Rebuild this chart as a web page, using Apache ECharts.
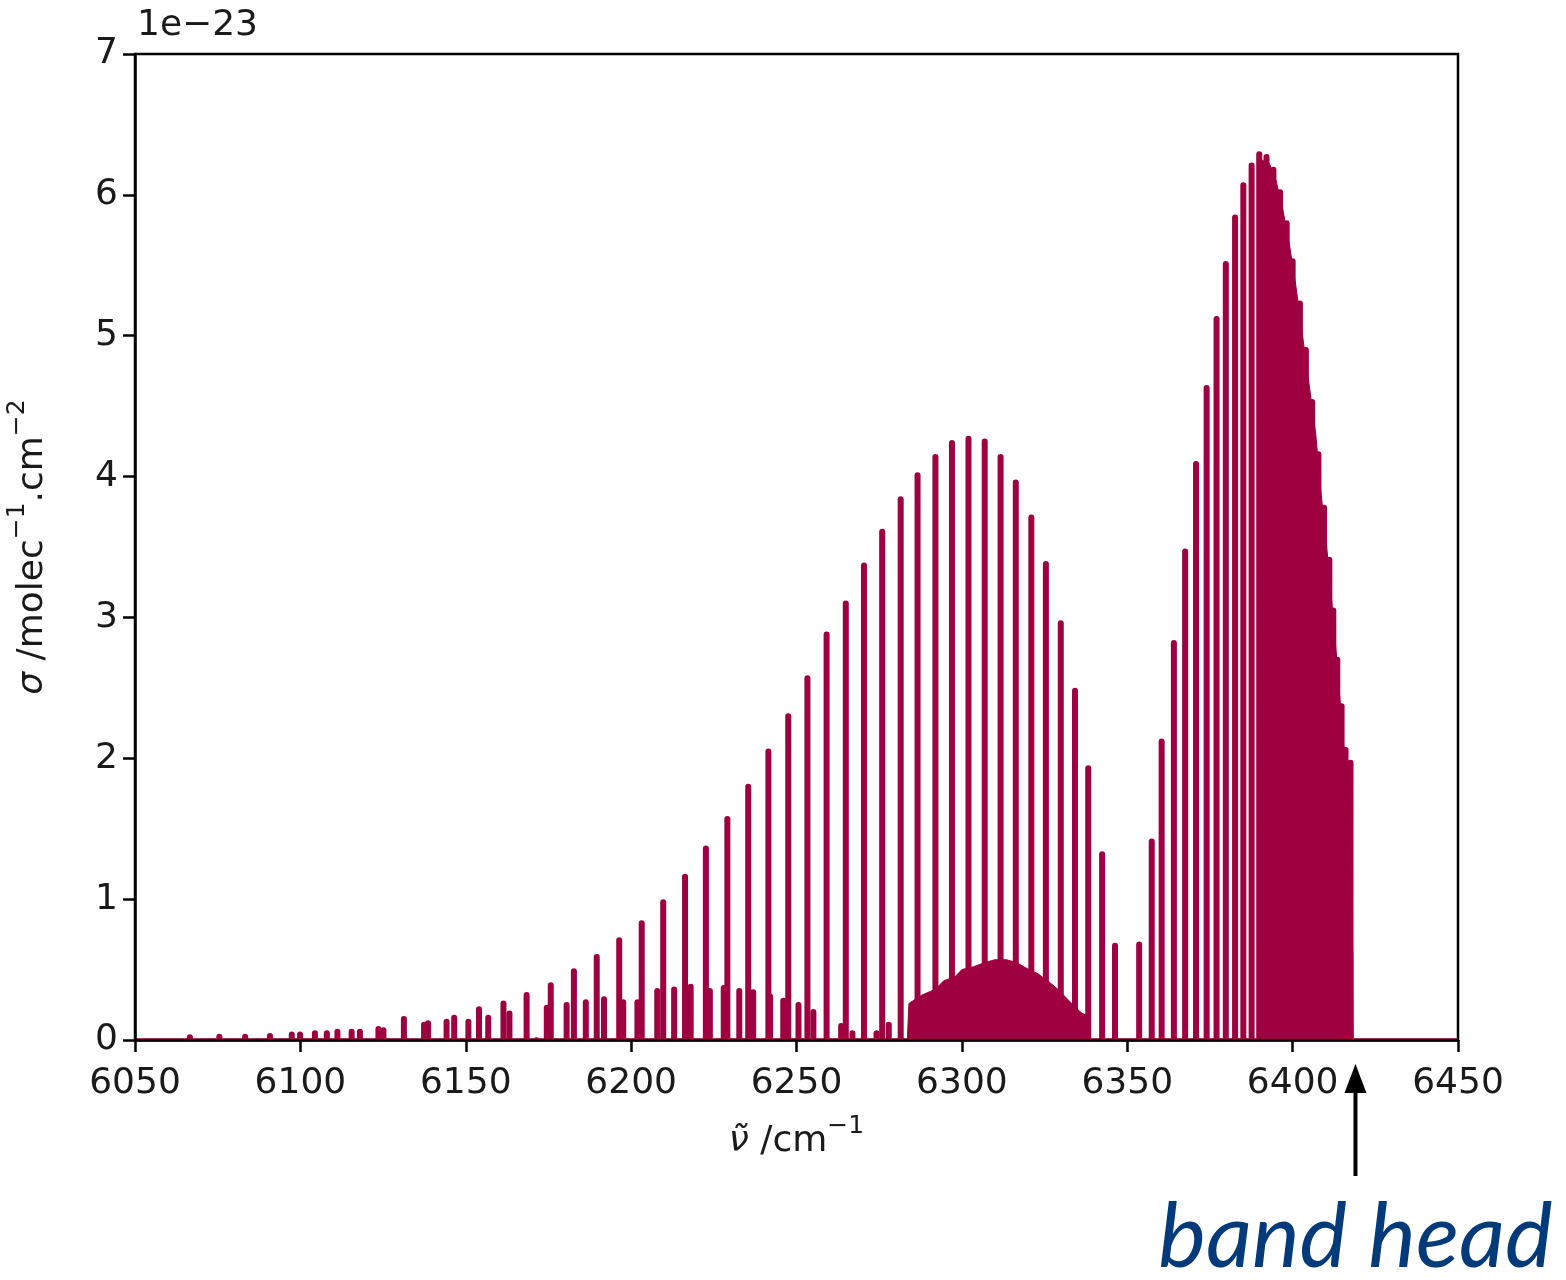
<!DOCTYPE html>
<html>
<head>
<meta charset="utf-8">
<script src="https://cdn.jsdelivr.net/npm/echarts@6/dist/echarts.min.js"></script>
<style>
  html, body { margin: 0; padding: 0; background: #ffffff; }
  #chart { width: 1566px; height: 1280px; }
</style>
</head>
<body>
<div id="chart"></div>
<script>
// Absorption cross-section, wavenumber in cm^-1, sigma in units of 1e-23 cm^2/molecule

// Strong P-branch lines [wavenumber, sigma]
const pBranch = [
  [6066.6, 0.04], [6075.5, 0.045], [6083.3, 0.045], [6090.8, 0.05], [6099.9, 0.06],
  [6108.0, 0.07], [6115.5, 0.08], [6123.6, 0.10], [6131.3, 0.17], [6138.6, 0.14],
  [6146.5, 0.18], [6154.0, 0.24], [6161.4, 0.28], [6168.4, 0.34], [6175.7, 0.41],
  [6182.7, 0.51], [6189.6, 0.61], [6196.4, 0.73], [6203.2, 0.85], [6209.7, 1.00],
  [6216.3, 1.18], [6222.6, 1.38], [6229.1, 1.59], [6235.4, 1.82], [6241.5, 2.07],
  [6247.5, 2.32], [6253.3, 2.59], [6259.1, 2.90], [6264.9, 3.12], [6270.4, 3.39],
  [6275.9, 3.63], [6281.5, 3.86], [6286.6, 4.03], [6292.0, 4.16], [6297.0, 4.26],
  [6302.0, 4.29], [6306.9, 4.27], [6311.7, 4.16], [6316.3, 3.98], [6321.0, 3.73],
  [6325.4, 3.40], [6329.9, 2.98], [6334.2, 2.50], [6338.2, 1.95], [6342.4, 1.34],
  [6346.3, 0.69]
];

// Weaker lines underneath the P branch
const weakLines = [
  [6097.4, 0.06], [6104.4, 0.07], [6111.2, 0.08], [6118.0, 0.08], [6125.1, 0.09],
  [6137.4, 0.13], [6144.2, 0.15], [6150.8, 0.15], [6156.8, 0.18], [6163.2, 0.21],
  [6171.4, 0.02], [6174.5, 0.25], [6180.5, 0.27], [6186.3, 0.29], [6191.8, 0.31],
  [6197.6, 0.29], [6201.9, 0.29], [6207.9, 0.37], [6213.0, 0.38], [6218.0, 0.40],
  [6223.8, 0.37], [6228.0, 0.39], [6232.7, 0.37], [6236.9, 0.36], [6242.0, 0.33],
  [6246.0, 0.30], [6250.6, 0.27], [6255.1, 0.22], [6263.5, 0.12], [6266.9, 0.07],
  [6274.2, 0.07], [6277.9, 0.13]
];

// Dense hot-band lines merging into a continuous hump
const hotBandEnvelope = [
  [6283.5, 0], [6284.0, 0.26], [6288.0, 0.32], [6292.0, 0.36], [6294.5, 0.42],
  [6298.0, 0.45], [6300.0, 0.50], [6303.5, 0.52], [6307.0, 0.55], [6310.0, 0.57],
  [6313.5, 0.57], [6316.5, 0.55], [6319.5, 0.51], [6323.0, 0.47], [6326.5, 0.41],
  [6329.0, 0.36], [6331.5, 0.30], [6334.0, 0.24], [6336.3, 0.19], [6338.3, 0.17],
  [6338.7, 0]
];

// R-branch lines up to the band head
const rBranch = [
  [6353.6, 0.70], [6357.4, 1.43], [6360.4, 2.14], [6364.1, 2.84], [6367.5, 3.49],
  [6370.8, 4.11], [6374.0, 4.65], [6377.0, 5.14], [6379.8, 5.53], [6382.6, 5.86],
  [6385.1, 6.09], [6387.6, 6.23], [6389.9, 6.31], [6392.1, 6.29], [6394.2, 6.20],
  [6396.2, 6.04], [6398.2, 5.82], [6400.0, 5.55], [6402.2, 5.25], [6404.0, 4.92],
  [6405.9, 4.55], [6407.8, 4.18], [6409.5, 3.80], [6411.1, 3.43], [6412.3, 3.07],
  [6413.5, 2.72], [6414.8, 2.39], [6416.0, 2.08], [6417.5, 1.99]
];

// Unresolved absorption filling the gaps near the band head
const bandHeadFill = [
  [6390.4, 0], [6390.5, 6.25], [6393.0, 6.22], [6395.0, 6.10], [6397.0, 5.90],
  [6399.0, 5.65], [6401.0, 5.35], [6403.0, 5.00], [6405.0, 4.65], [6407.0, 4.30],
  [6408.5, 3.90], [6410.3, 3.50], [6411.7, 3.15], [6413.0, 2.80], [6414.2, 2.45],
  [6415.4, 2.10], [6416.6, 1.81], [6417.0, 1.81], [6418.2, 0.60], [6418.3, 0]
];

const baseline = [[6050, 0], [6450, 0]];
const bandHeadNu = 6419;

const xRange = { min: 6050, max: 6450, step: 50 };
const yRange = { min: 0, max: 7, step: 1 };
const yExponentLabel = '1e\u221223';

const LINE_COLOR = '#9e0040';
const INK = '#1a1a1a';
const FONT = 'DejaVu Sans';
const STICK_WIDTH = 6;

function stickSeries(data) {
  return {
    type: 'custom',
    data: data,
    encode: { x: 0, y: 1 },
    clip: true,
    renderItem: function (params, api) {
      const top = api.coord([api.value(0), api.value(1)]);
      const base = api.coord([api.value(0), 0]);
      const w = STICK_WIDTH;
      return {
        type: 'rect',
        shape: { x: top[0] - w / 2, y: top[1], width: w, height: base[1] - top[1], r: [w / 2, w / 2, 0, 0] },
        style: { fill: LINE_COLOR }
      };
    }
  };
}

function areaSeries(data) {
  return {
    type: 'line',
    data: data,
    symbol: 'none',
    smooth: false,
    lineStyle: { color: LINE_COLOR, width: 1 },
    areaStyle: { color: LINE_COLOR, opacity: 1 },
    silent: true
  };
}

const chart = echarts.init(document.getElementById('chart'), null, { renderer: 'canvas' });

const axisText = { fontFamily: FONT, fontSize: 36, color: INK };
const supStyle = { fontFamily: FONT, fontSize: 25, color: INK, verticalAlign: 'top', lineHeight: 24 };
const baseStyle = { fontFamily: FONT, fontSize: 36, color: INK, lineHeight: 46, verticalAlign: 'bottom' };
const italStyle = Object.assign({}, baseStyle, { fontStyle: 'italic' });
const plainNumber = function (v) { return String(v); };

chart.setOption({
  animation: false,
  backgroundColor: '#ffffff',
  grid: {
    left: 135, right: 108, top: 54, bottom: 240,
    outerBoundsMode: 'none',
    containLabel: false,
    show: true, borderColor: '#000', borderWidth: 2.5, backgroundColor: 'transparent'
  },
  xAxis: {
    type: 'value',
    min: xRange.min, max: xRange.max, interval: xRange.step,
    z: 10,
    axisLine: { show: true, onZero: false, lineStyle: { color: '#000', width: 2.5 } },
    axisTick: { show: true, length: 12, lineStyle: { color: '#000', width: 2.5 } },
    axisLabel: Object.assign({ margin: 26, formatter: plainNumber }, axisText),
    splitLine: { show: false },
    name: '{i|\u03BD\u0303}{n| /cm}{s|\u22121}',
    nameLocation: 'middle',
    nameGap: 74,
    nameTextStyle: { rich: { i: italStyle, n: baseStyle, s: supStyle } }
  },
  yAxis: {
    type: 'value',
    min: yRange.min, max: yRange.max, interval: yRange.step,
    z: 10,
    axisLine: { show: true, lineStyle: { color: '#000', width: 2.5 } },
    axisTick: { show: true, length: 12, lineStyle: { color: '#000', width: 2.5 } },
    axisLabel: Object.assign({ margin: 17, formatter: plainNumber }, axisText),
    splitLine: { show: false },
    name: '{i|\u03C3}{n| /molec}{s|\u22121}{n|.cm}{s|\u22122}',
    nameLocation: 'middle',
    nameRotate: 90,
    nameGap: 84,
    nameTextStyle: { rich: { i: italStyle, n: baseStyle, s: supStyle } }
  },
  series: [
    areaSeries(hotBandEnvelope),
    areaSeries(bandHeadFill),
    stickSeries(weakLines),
    stickSeries(pBranch),
    stickSeries(rBranch),
    {
      type: 'line',
      data: baseline,
      symbol: 'none',
      lineStyle: { color: LINE_COLOR, width: 3.5 },
      silent: true
    }
  ],
  graphic: [
    {
      id: 'exponent',
      type: 'text',
      left: 137, top: 8,
      style: { text: yExponentLabel, font: '36px "DejaVu Sans"', fill: INK }
    }
  ]
});

// Band head marker, placed from its wavenumber on the x axis
const headX = chart.convertToPixel({ xAxisIndex: 0 }, bandHeadNu);
chart.setOption({
  graphic: [
    {
      id: 'arrowShaft',
      type: 'line',
      shape: { x1: headX, y1: 1176, x2: headX, y2: 1088 },
      style: { stroke: '#000', lineWidth: 4 }
    },
    {
      id: 'arrowHead',
      type: 'polygon',
      shape: { points: [[headX, 1064], [headX - 11, 1093], [headX + 11, 1093]] },
      style: { fill: '#000' }
    },
    {
      id: 'bandHeadText',
      type: 'text',
      x: headX, y: 1238,
      style: {
        text: 'band head',
        font: 'italic 90px Lato',
        fill: '#023a7a',
        align: 'center',
        verticalAlign: 'middle'
      }
    }
  ]
});
</script>
</body>
</html>
